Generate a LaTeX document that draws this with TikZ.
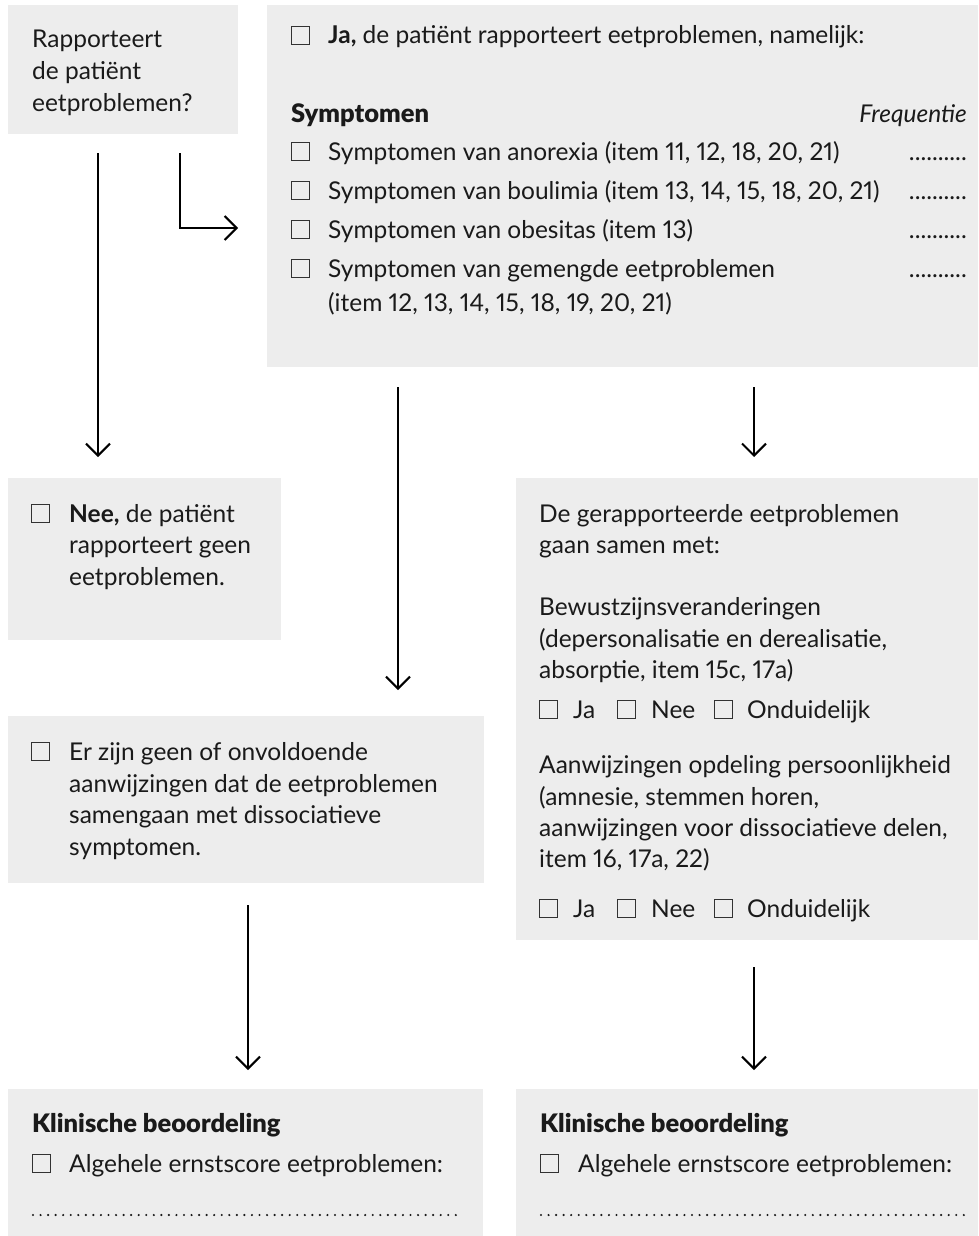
\documentclass[tikz,border=0pt]{standalone}
\usepackage{fontspec}
\setmainfont{Lato}[Numbers=Proportional]
\newfontfamily\heavy{Lato Black}[Numbers=Proportional]
\usetikzlibrary{arrows.meta}
\definecolor{boxfill}{RGB}{237,237,237}
\definecolor{ink}{RGB}{26,26,26}
\definecolor{cboxline}{RGB}{50,50,50}
\begin{document}
\begin{tikzpicture}[x=1pt,y=-1pt,
  box/.style={fill=boxfill, draw=none, inner sep=0pt, anchor=north west, rectangle},
  txt/.style={anchor=base west, inner sep=0pt, text=ink, font=\fontsize{24.5}{30}\selectfont},
  txtr/.style={txt, anchor=base east},
  head/.style={txt, font=\heavy\fontsize{25.5}{30}\selectfont},
  cbox/.style={draw=cboxline, line width=1.2pt, anchor=south west, minimum width=18pt, minimum height=18pt, inner sep=0pt},
  arr/.style={draw=black, line width=2pt, -{Straight Barb[length=12pt,width=24pt,line width=2pt]}},
  dotline/.style={draw=ink, line width=2.4pt, line cap=round, dash pattern=on 0pt off 7.55pt}
]
\useasboundingbox (0,0) rectangle (978,1236);

% boxes
\node[box, minimum width=230, minimum height=129] (A) at (8,5) {};
\node[box, minimum width=711, minimum height=362] (B) at (267,5) {};
\node[box, minimum width=273, minimum height=162] (C) at (8,478) {};
\node[box, minimum width=476, minimum height=167] (D) at (8,716) {};
\node[box, minimum width=462, minimum height=462] (E) at (516,478) {};
\node[box, minimum width=475, minimum height=147] (F) at (8,1089) {};
\node[box, minimum width=462, minimum height=147] (G) at (516,1089) {};

% box A
\node[txt] (a1) at (32,48) {Rapporteert};
\node[txt] (a2) at (32,80) {de patiënt};
\node[txt] (a3) at (32,112) {eetproblemen?};

% box B
\node[cbox] (bc0) at (291,45) {};
\node[txt] (b0) at (328,44) {\textbf{Ja,} de patiënt rapporteert eetproblemen, namelijk:};
\node[head] (bh) at (291,122) {Symptomen};
\node[txtr] (bf) at (967,122) {\itshape Frequentie};
\node[cbox] (bc1) at (291,161) {};
\node[txt] (b1) at (328,160) {Symptomen van anorexia (item 11, 12, 18, 20, 21)};
\node[txtr] (bd1) at (967,160) {..........};
\node[cbox] (bc2) at (291,200) {};
\node[txt] (b2) at (328,199) {Symptomen van boulimia (item 13, 14, 15, 18, 20, 21)};
\node[txtr] (bd2) at (967,199) {..........};
\node[cbox] (bc3) at (291,239) {};
\node[txt] (b3) at (328,238) {Symptomen van obesitas (item 13)};
\node[txtr] (bd3) at (967,238) {..........};
\node[cbox] (bc4) at (291,278) {};
\node[txt] (b4) at (328,277) {Symptomen van gemengde eetproblemen};
\node[txtr] (bd4) at (967,277) {..........};
\node[txt] (b5) at (328,311) {(item 12, 13, 14, 15, 18, 19, 20, 21)};

% box C
\node[cbox] (cc) at (31,523) {};
\node[txt] (c1) at (69,522) {\textbf{Nee,} de patiënt};
\node[txt] (c2) at (69,553) {rapporteert geen};
\node[txt] (c3) at (69,585) {eetproblemen.};

% box D
\node[cbox] (dc) at (31,761) {};
\node[txt] (d1) at (69,760) {Er zijn geen of onvoldoende};
\node[txt] (d2) at (69,792) {aanwijzingen dat de eetproblemen};
\node[txt] (d3) at (69,823) {samengaan met dissociatieve};
\node[txt] (d4) at (69,855) {symptomen.};

% box E
\node[txt] (e1) at (539,522) {De gerapporteerde eetproblemen};
\node[txt] (e2) at (539,553) {gaan samen met:};
\node[txt] (e3) at (539,615) {Bewustzijnsveranderingen};
\node[txt] (e4) at (539,647) {(depersonalisatie en derealisatie,};
\node[txt] (e5) at (539,678) {absorptie, item 15c, 17a)};
\node[cbox] (ec1) at (539,719) {};
\node[txt] (ej1) at (573,718) {Ja};
\node[cbox] (ec2) at (617,719) {};
\node[txt] (en1) at (651,718) {Nee};
\node[cbox] (ec3) at (714,719) {};
\node[txt] (eo1) at (747,718) {Onduidelijk};
\node[txt] (e6) at (539,773) {Aanwijzingen opdeling persoonlijkheid};
\node[txt] (e7) at (539,805) {(amnesie, stemmen horen,};
\node[txt] (e8) at (539,836) {aanwijzingen voor dissociatieve delen,};
\node[txt] (e9) at (539,867) {item 16, 17a, 22)};
\node[cbox] (ec4) at (539,918) {};
\node[txt] (ej2) at (573,917) {Ja};
\node[cbox] (ec5) at (617,918) {};
\node[txt] (en2) at (651,917) {Nee};
\node[cbox] (ec6) at (714,918) {};
\node[txt] (eo2) at (747,917) {Onduidelijk};

% box F
\node[head] (fh) at (32,1132) {Klinische beoordeling};
\node[cbox] (fc) at (32,1173) {};
\node[txt] (f1) at (69,1172) {Algehele ernstscore eetproblemen:};
\draw[dotline] (33,1215) -- (462,1215);

% box G
\node[head] (gh) at (540,1132) {Klinische beoordeling};
\node[cbox] (gc) at (540,1173) {};
\node[txt] (g1) at (578,1172) {Algehele ernstscore eetproblemen:};
\draw[dotline] (541,1215) -- (970,1215);

% arrows
\coordinate (p1s) at (98,153);  \coordinate (p1e) at (98,457);
\coordinate (p2s) at (180,153); \coordinate (p2e) at (238,228);
\coordinate (p3s) at (398,387); \coordinate (p3e) at (398,690);
\coordinate (p4s) at (754,387); \coordinate (p4e) at (754,457);
\coordinate (p5s) at (248,905); \coordinate (p5e) at (248,1070);
\coordinate (p6s) at (754,967); \coordinate (p6e) at (754,1070);
\draw[arr] (p1s) -- (p1e);
\draw[arr] (p2s) |- (p2e);
\draw[arr] (p3s) -- (p3e);
\draw[arr] (p4s) -- (p4e);
\draw[arr] (p5s) -- (p5e);
\draw[arr] (p6s) -- (p6e);
\end{tikzpicture}
\end{document}
